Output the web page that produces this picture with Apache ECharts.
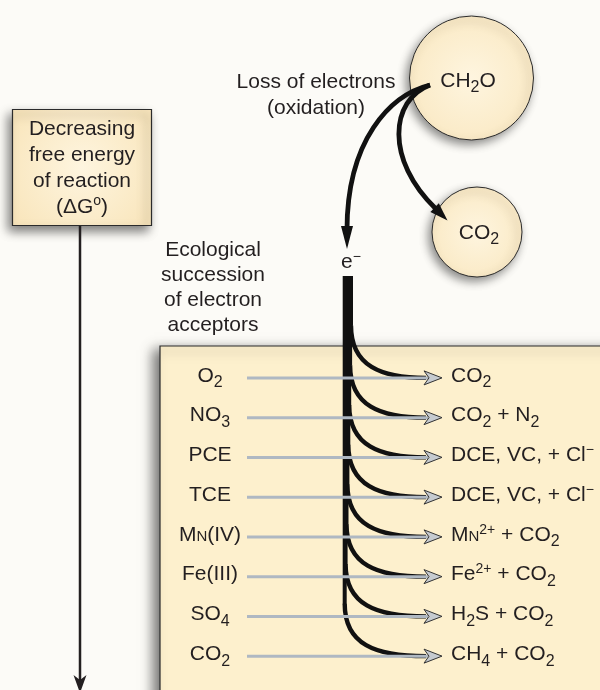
<!DOCTYPE html>
<html><head><meta charset="utf-8">
<script src="https://cdn.jsdelivr.net/npm/echarts@6/dist/echarts.min.js"></script>
<style>html,body{margin:0;padding:0;background:#fcfbf7}#c{width:600px;height:690px}</style>
</head><body><div id="c"></div>
<script>
// ---- content ----
const acceptorNames = ['O2', 'NO3', 'PCE', 'TCE', 'Mn(IV)', 'Fe(III)', 'SO4', 'CO2'];
const acceptorLabels = ['O{sub|2}', 'NO{sub|3}', 'PCE', 'TCE', 'M{sc|N}(IV)', 'Fe(III)', 'SO{sub|4}', 'CO{sub|2}'];
const productLabels = ['CO{sub|2}', 'CO{sub|2} + N{sub|2}', 'DCE, VC, + Cl{sup|−}', 'DCE, VC, + Cl{sup|−}',
  'M{sc|N}{sup|2+} + CO{sub|2}', 'Fe{sup|2+} + CO{sub|2}', 'H{sub|2}S + CO{sub|2}', 'CH{sub|4} + CO{sub|2}'];
const donorLabel = 'CH{sub|2}O';
const byproductLabel = 'CO{sub|2}';
const electronLabel = 'e{sup|−}';
const oxidationText = ['Loss of electrons', '(oxidation)'];
const energyText = ['Decreasing', 'free energy', 'of reaction', '(ΔG{deg|o})'];
const successionText = ['Ecological', 'succession', 'of electron', 'acceptors'];

// ---- styling / layout ----
const FF = '"Liberation Sans", Arial, Helvetica, sans-serif';
const TXT = '#231f20';
function makeRich(L) {
  return {
    n: {fontSize: 21, lineHeight: L, verticalAlign: 'middle', fontFamily: FF, fill: TXT},
    sub: {fontSize: 16, lineHeight: 16, verticalAlign: 'bottom', fontFamily: FF, fill: TXT},
    sup: {fontSize: 14, lineHeight: 14, padding: [3, 0, 0, 0], verticalAlign: 'top', fontFamily: FF, fill: TXT},
    deg: {fontSize: 14, lineHeight: 14, verticalAlign: 'top', fontFamily: FF, fill: TXT},
    sc: {fontSize: 15, lineHeight: 15, padding: [4, 0, 0, 0], verticalAlign: 'middle', fontFamily: FF, fill: TXT}
  };
}
// wrap plain segments in the normal style so every token is explicit
function richify(s) {
  return s.split(/(\{[a-z]+\|[^}]*\})/).map(function (p) {
    if (!p) return '';
    if (/^\{[a-z]+\|/.test(p)) return p;
    return p.split('\n').map(function (q) { return q ? '{n|' + q + '}' : ''; }).join('\n');
  }).join('');
}
function txt(text, x, y, align, lh) {
  return {type: 'text', z: 30, silent: true, style: {text: richify(text), x: x, y: y, fill: TXT, fontSize: 21, fontFamily: FF,
    lineHeight: lh, align: align, textAlign: align, verticalAlign: 'middle', textVerticalAlign: 'middle', rich: makeRich(lh)}};
}
const cream = {type: 'radial', x: 0.5, y: 0.5, r: 0.7, colorStops: [{offset: 0, color: '#fef5df'}, {offset: 1, color: '#f9e6bd'}]};
const TRUNK_X = 351, TRUNK_TOP = 276, LINE_X0 = 247, HEAD_BASE = 424, HEAD_TIP = 442, LABEL_X = 210, PROD_X = 451;

const chart = echarts.init(document.getElementById('c'), null, {renderer: 'canvas'});
chart.setOption({
  backgroundColor: '#fcfbf7',
  animation: false,
  grid: [{left: 0, right: 0, top: 358, height: 318}],
  xAxis: [{type: 'value', min: 0, max: 600, show: false}],
  yAxis: [{type: 'category', data: acceptorNames, inverse: true, show: false}],
  graphic: {elements: [
    {type: 'rect', z: 1, silent: true, shape: {x: 160, y: 346, width: 460, height: 360},
      style: {fill: '#fdf0cd', stroke: '#2b2b2b', lineWidth: 1.2, shadowBlur: 12, shadowColor: 'rgba(0,0,0,0.55)', shadowOffsetX: -6, shadowOffsetY: 4}},
    {type: 'rect', z: 1, silent: true, shape: {x: 12.5, y: 109.5, width: 139, height: 116},
      style: {fill: cream, stroke: '#2b2b2b', lineWidth: 1.2, shadowBlur: 10, shadowColor: 'rgba(0,0,0,0.5)', shadowOffsetX: -4, shadowOffsetY: 5}},
    {type: 'circle', z: 1, silent: true, shape: {cx: 471.5, cy: 78, r: 62},
      style: {fill: cream, stroke: '#2b2b2b', lineWidth: 1, shadowBlur: 10, shadowColor: 'rgba(0,0,0,0.45)', shadowOffsetX: -3, shadowOffsetY: 4}},
    {type: 'circle', z: 1, silent: true, shape: {cx: 477, cy: 232, r: 45},
      style: {fill: cream, stroke: '#2b2b2b', lineWidth: 1, shadowBlur: 10, shadowColor: 'rgba(0,0,0,0.45)', shadowOffsetX: -3, shadowOffsetY: 4}},
    {type: 'bezierCurve', z: 20, silent: true, shape: {x1: 430, y1: 85, cpx1: 390, cpy1: 95, cpx2: 347, cpy2: 140, x2: 347, y2: 230},
      style: {stroke: '#111', lineWidth: 4.8, fill: 'none'}},
    {type: 'polygon', z: 20, silent: true, shape: {points: [[341, 226], [347, 249], [353, 226]]}, style: {fill: '#111'}},
    {type: 'bezierCurve', z: 20, silent: true, shape: {x1: 430, y1: 85, cpx1: 390, cpy1: 100, cpx2: 385, cpy2: 160, x2: 436, y2: 209},
      style: {stroke: '#111', lineWidth: 4.8, fill: 'none'}},
    {type: 'polygon', z: 20, silent: true, shape: {points: [[430.4, 211.9], [447.5, 220.5], [438.8, 203.3]]}, style: {fill: '#111'}},
    {type: 'line', z: 20, silent: true, shape: {x1: 80, y1: 226, x2: 80, y2: 682}, style: {stroke: TXT, lineWidth: 2.5}},
    {type: 'polygon', z: 20, silent: true, shape: {points: [[73.5, 675], [80, 693], [86.5, 675], [80, 680]]}, style: {fill: TXT}},
    txt(oxidationText.join('\n'), 316, 95, 'center', 26),
    txt(energyText.join('\n'), 82, 168, 'center', 26),
    txt(successionText.join('\n'), 213, 288, 'center', 25),
    txt(donorLabel, 468, 81, 'center', 30),
    txt(byproductLabel, 479, 233, 'center', 30),
    txt(electronLabel, 341, 262, 'left', 30)
  ]},
  series: [
    { // electron flow: trunk + curves peeling off to each acceptor
      type: 'custom', z: 5, silent: true, clip: false,
      data: acceptorNames.map(function (n, i) { return [0, i]; }),
      encode: {x: 0, y: 1},
      renderItem: function (params, api) {
        const i = api.value(1);
        const y = api.coord([0, i])[1];
        const tx = TRUNK_X - i * 0.9;
        return {type: 'group', children: [
          {type: 'line', shape: {x1: tx, y1: TRUNK_TOP, x2: tx, y2: y - 52}, style: {stroke: '#111', lineWidth: 4}},
          {type: 'bezierCurve', shape: {x1: tx, y1: y - 52.5, cpx1: tx, cpy1: y - 12, cpx2: tx + 30, cpy2: y, x2: HEAD_BASE + 2, y2: y},
            style: {stroke: '#111', lineWidth: 4.4, fill: 'none'}}
        ]};
      }
    },
    { // acceptor -> product arrows and labels
      type: 'custom', z: 6, silent: true, clip: false,
      data: acceptorNames.map(function (n, i) { return [0, i]; }),
      encode: {x: 0, y: 1},
      renderItem: function (params, api) {
        const i = api.value(1);
        const y = api.coord([0, i])[1];
        const r = makeRich(30);
        return {type: 'group', children: [
          {type: 'line', shape: {x1: LINE_X0, y1: y, x2: HEAD_BASE + 4, y2: y}, style: {stroke: '#afb8c2', lineWidth: 3}},
          {type: 'polygon', shape: {points: [[HEAD_BASE, y - 7], [HEAD_TIP, y], [HEAD_BASE, y + 7], [HEAD_BASE + 5, y]]},
            style: {fill: '#c6cbd0', stroke: '#333', lineWidth: 1}},
          {type: 'text', style: {text: richify(acceptorLabels[i]), x: LABEL_X, y: y - 2, fill: TXT, fontSize: 21, fontFamily: FF, lineHeight: 30,
            align: 'center', textAlign: 'center', verticalAlign: 'middle', textVerticalAlign: 'middle', rich: r}},
          {type: 'text', style: {text: richify(productLabels[i]), x: PROD_X, y: y - 2, fill: TXT, fontSize: 21, fontFamily: FF, lineHeight: 30,
            align: 'left', textAlign: 'left', verticalAlign: 'middle', textVerticalAlign: 'middle', rich: r}}
        ]};
      }
    }
  ]
});
</script>
</body></html>
